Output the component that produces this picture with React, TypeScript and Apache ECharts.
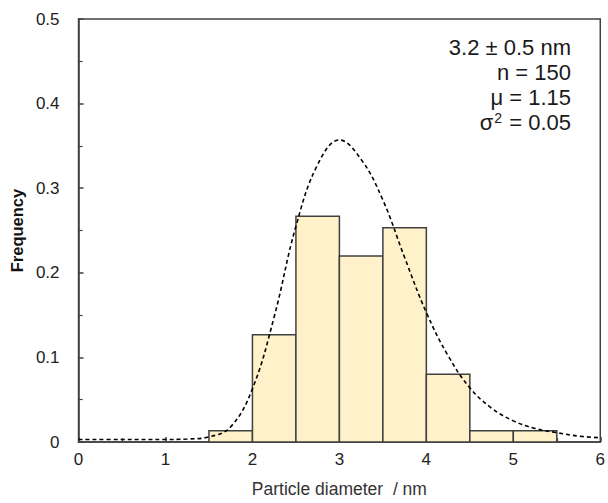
import React, { useEffect, useRef } from "react";
import * as echarts from "echarts";

const binStarts = [1.5, 2.0, 2.5, 3.0, 3.5, 4.0, 4.5, 5.0];
const binEnds = [2.0, 2.5, 3.0, 3.5, 4.0, 4.5, 5.0, 5.5];
const frequencies = [0.0133, 0.1267, 0.2667, 0.22, 0.2533, 0.08, 0.0133, 0.0133];

const fitX = [0, 0.5, 1.0, 1.25, 1.5, 1.75, 2.0, 2.25, 2.5, 2.75, 3.0, 3.25, 3.5, 3.75, 4.0, 4.25, 4.5, 4.75, 5.0, 5.25, 5.5, 5.75, 6.0];
const fitY = [0.003, 0.003, 0.003, 0.0035, 0.006, 0.018, 0.063, 0.148, 0.255, 0.328, 0.357, 0.334, 0.286, 0.218, 0.153, 0.102, 0.064, 0.040, 0.025, 0.016, 0.011, 0.007, 0.005];

const annotationLines = ["3.2 ± 0.5 nm", "n = 150", "μ = 1.15", "σ{sup|2} = 0.05"];

const FONT = "'Liberation Sans', Arial, sans-serif";
const AXIS_COLOR = "#404040";

export default function App() {
  const ref = useRef<HTMLDivElement>(null);
  useEffect(() => {
    if (!ref.current) return;
    const chart = echarts.init(ref.current, undefined, { renderer: "svg" });
    const barData = binStarts.map((s, i) => [s, binEnds[i], frequencies[i]]);
    const fitData = fitX.map((x, i) => [x, fitY[i]]);
    chart.setOption({
      animation: false,
      backgroundColor: "#fff",
      textStyle: { fontFamily: FONT },
      grid: {
        left: 76,
        right: 7,
        top: 19,
        bottom: 60,
        show: true,
        borderColor: AXIS_COLOR,
        borderWidth: 1.5,
        backgroundColor: "transparent",
      },
      xAxis: {
        type: "value",
        min: 0,
        max: 6,
        interval: 1,
        name: "Particle diameter  / nm",
        nameLocation: "middle",
        nameGap: 38,
        nameTextStyle: { fontSize: 17.5, color: "#333", fontFamily: FONT },
        axisLine: { show: true, lineStyle: { color: AXIS_COLOR, width: 1.5 } },
        axisTick: { show: true, inside: true, length: 5, lineStyle: { color: AXIS_COLOR, width: 1.5 } },
        minorTick: { show: true, splitNumber: 2, length: 4, lineStyle: { color: AXIS_COLOR, width: 1.2 } },
        axisLabel: { fontSize: 17, color: "#222", margin: 9, fontFamily: FONT },
        splitLine: { show: false },
      },
      yAxis: {
        type: "value",
        min: 0,
        max: 0.5,
        interval: 0.1,
        name: "Frequency",
        nameLocation: "middle",
        nameGap: 51,
        nameTextStyle: { fontSize: 16.5, fontWeight: "bold", color: "#111", fontFamily: FONT },
        axisLine: { show: true, lineStyle: { color: AXIS_COLOR, width: 1.5 } },
        axisTick: { show: true, inside: true, length: 5, lineStyle: { color: AXIS_COLOR, width: 1.5 } },
        minorTick: { show: true, splitNumber: 2, length: 4, lineStyle: { color: AXIS_COLOR, width: 1.2 } },
        axisLabel: {
          fontSize: 17,
          color: "#222",
          margin: 19,
          fontFamily: FONT,
          formatter: (v: number) => (v === 0 ? "0" : v.toFixed(1)),
        },
        splitLine: { show: false },
      },
      series: [
        {
          type: "custom",
          data: barData,
          encode: { x: [0, 1], y: 2 },
          renderItem: (params: any, api: any) => {
            const p0 = api.coord([api.value(0), api.value(2)]);
            const p1 = api.coord([api.value(1), 0]);
            return {
              type: "rect",
              shape: { x: p0[0], y: p0[1], width: p1[0] - p0[0], height: p1[1] - p0[1] },
              style: { fill: "#FFF1CA", stroke: "#404040", lineWidth: 1.5 },
            };
          },
          z: 2,
        },
        {
          type: "line",
          data: fitData,
          smooth: 0.4,
          symbol: "none",
          lineStyle: { color: "#000", width: 1.6, type: [4, 3] },
          z: 3,
        },
      ],
      graphic: annotationLines.map((t, i) => ({
        type: "text",
        x: 571,
        y: 47 + i * 25,
        z: 10,
        style: {
          text: t,
          fontSize: 22,
          fontFamily: FONT,
          fill: "#1a1a1a",
          align: "right",
          verticalAlign: "middle",
          rich: {
            sup: { fontSize: 14, verticalAlign: "top", fill: "#1a1a1a", fontFamily: FONT, padding: [0, 1, 0, 1] },
          },
        },
      })),
    });
    return () => chart.dispose();
  }, []);
  return (
    <div
      ref={ref}
      style={{ position: "fixed", left: 0, top: 0, width: 608, height: 503, background: "#fff" }}
    />
  );
}
